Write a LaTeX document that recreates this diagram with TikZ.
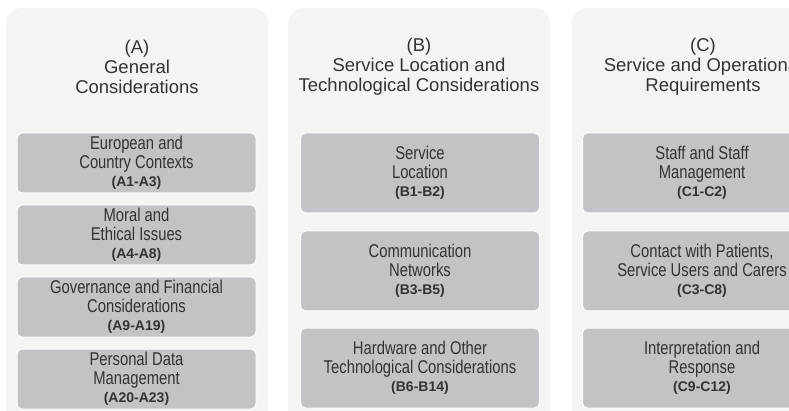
\documentclass[tikz,border=0pt]{standalone}
\usepackage{fontspec}
\setmainfont{Liberation Sans}
\newfontfamily\narrowfont[FakeStretch=0.8]{Liberation Sans}
\definecolor{panelgray}{HTML}{F4F4F4}
\definecolor{boxgray}{HTML}{C2C3C6}
\definecolor{inkgray}{HTML}{333333}
\tikzset{
  panel/.style={rectangle, rounded corners=15pt, fill=panelgray, minimum width=262pt,
    minimum height=430pt, anchor=north, inner sep=0pt},
  title/.style={align=center, text=inkgray, font=\fontsize{18.5}{20}\selectfont},
  topic/.style={rectangle, rounded corners=5pt, fill=boxgray, draw=white, line width=1pt,
    minimum width=239pt, align=center, text=inkgray, inner sep=0pt,
    font=\narrowfont\fontsize{18.5}{19}\selectfont},
  short/.style={topic, minimum height=60pt},
  tall/.style={topic, minimum height=80pt},
}
\newcommand{\itemcode}[1]{\\[-1pt]{\normalfont\bfseries\fontsize{14}{16}\selectfont #1}}
\begin{document}
\begin{tikzpicture}[x=1pt,y=-1pt]
  \useasboundingbox (0,0) rectangle (789,411);
  \clip (0,0) rectangle (789,411);

  % Column panels
  \foreach \name/\cx in {A/137,B/419,C/703} {
    \node[panel] (panel\name) at (\cx,8) {};
  }

  % Column titles
  \node[title] (titleA) at (137,67) {(A)\\General\\Considerations};
  \node[title] (titleB) at (419,67) {(B)\\Service Location and\\Technological Considerations};
  \node[title] (titleC) at (703,67) {(C)\\Service and Operational\\Requirements};

  % Column A
  \node[short] (A1) at (136.5,163) {European and\\Country Contexts\itemcode{(A1-A3)}};
  \node[short] (A2) at (136.5,235) {Moral and\\Ethical Issues\itemcode{(A4-A8)}};
  \node[short] (A3) at (136.5,307) {Governance and Financial\\Considerations\itemcode{(A9-A19)}};
  \node[short] (A4) at (136.5,379) {Personal Data\\Management\itemcode{(A20-A23)}};

  % Column B
  \node[tall] (B1) at (420,173) {Service\\Location\itemcode{(B1-B2)}};
  \node[tall] (B2) at (420,271) {Communication\\Networks\itemcode{(B3-B5)}};
  \node[tall] (B3) at (420,368) {Hardware and Other\\Technological Considerations\itemcode{(B6-B14)}};

  % Column C
  \node[tall] (C1) at (702,173) {Staff and Staff\\Management\itemcode{(C1-C2)}};
  \node[tall] (C2) at (702,271) {Contact with Patients,\\Service Users and Carers\itemcode{(C3-C8)}};
  \node[tall] (C3) at (702,368) {Interpretation and\\Response\itemcode{(C9-C12)}};
\end{tikzpicture}
\end{document}
